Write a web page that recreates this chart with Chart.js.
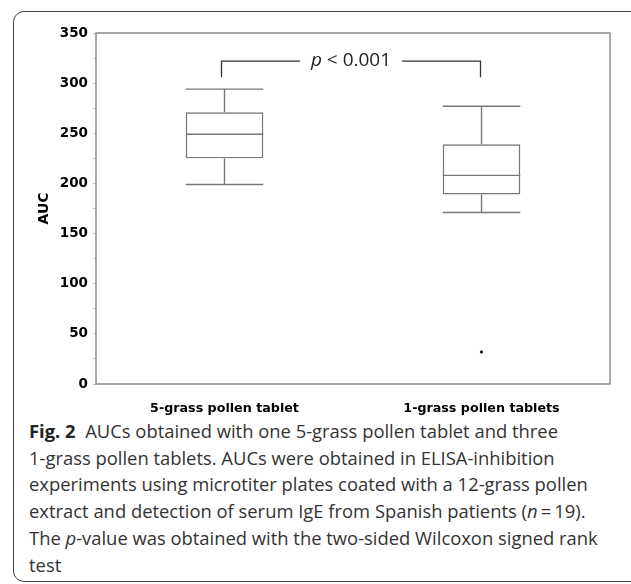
<!DOCTYPE html>
<html>
<head>
<meta charset="utf-8">
<script src="https://cdn.jsdelivr.net/npm/chart.js@4/dist/chart.umd.min.js"></script>
<style>
  html, body { margin: 0; padding: 0; background: #fff; }
  body { width: 631px; height: 584px; position: relative; overflow: hidden; }
  #frame {
    position: absolute; left: 12.5px; top: 10.5px; width: 630px; height: 571px;
    border: 1.3px solid #444; border-radius: 11px; box-sizing: border-box;
  }
  #wrap { position: absolute; left: 0; top: 0; width: 631px; height: 415px; }
  #caption {
    position: absolute; left: 29px; top: 418px;
    font-family: "Open Sans", sans-serif; font-size: 18.4px; line-height: 26.7px;
    color: #333;
  }
  #caption div { white-space: nowrap; }
  #caption b { color: #222; }
</style>
</head>
<body>
<div id="frame"></div>
<div id="wrap"><canvas id="chart"></canvas></div>
<div id="caption">
  <div><b>Fig. 2</b>&nbsp; AUCs obtained with one 5-grass pollen tablet and three</div>
  <div>1-grass pollen tablets. AUCs were obtained in ELISA-inhibition</div>
  <div>experiments using microtiter plates coated with a 12-grass pollen</div>
  <div>extract and detection of serum IgE from Spanish patients (<i>n</i>&thinsp;=&thinsp;19).</div>
  <div>The <i>p</i>-value was obtained with the two-sided Wilcoxon signed rank</div>
  <div>test</div>
</div>
<script>
const categories = ['5-grass pollen tablet', '1-grass pollen tablets'];
const whiskerLow = [199, 171];
const q1 = [225, 189];
const median = [249, 208];
const q3 = [271, 239];
const whiskerHigh = [294, 277];
const outliers = [null, 32];
const yMax = 350;
const yLabelStep = 50;
const bracketTop = 322;
const bracketFoot = 306;
const pText = ['p', ' < 0.001'];

const LINE = '#777';
const AXIS = '#8c8c8c';
const TICK_FONT = { family: 'DejaVu Sans', weight: 'bold', size: 13.5 };

// whiskers, median line and cap lines, drawn from the box positions
const boxParts = {
  id: 'boxParts',
  afterDatasetsDraw(chart) {
    const ctx = chart.ctx;
    const y = chart.scales.y;
    const bars = chart.getDatasetMeta(0).data;
    ctx.save();
    ctx.strokeStyle = LINE;
    ctx.lineWidth = 1.4;
    bars.forEach((bar, i) => {
      const x = bar.x, hw = bar.width / 2;
      const seg = (x1, y1, x2, y2) => {
        ctx.beginPath(); ctx.moveTo(x1, y1); ctx.lineTo(x2, y2); ctx.stroke();
      };
      seg(x - hw, y.getPixelForValue(median[i]), x + hw, y.getPixelForValue(median[i]));
      seg(x, y.getPixelForValue(q3[i]), x, y.getPixelForValue(whiskerHigh[i]));
      seg(x, y.getPixelForValue(q1[i]), x, y.getPixelForValue(whiskerLow[i]));
      seg(x - hw, y.getPixelForValue(whiskerHigh[i]), x + hw, y.getPixelForValue(whiskerHigh[i]));
      seg(x - hw, y.getPixelForValue(whiskerLow[i]), x + hw, y.getPixelForValue(whiskerLow[i]));
    });
    ctx.restore();
  }
};

// plot frame + significance bracket
const decorations = {
  id: 'decorations',
  afterDraw(chart) {
    const ctx = chart.ctx;
    const { left, top, right, bottom } = chart.chartArea;
    const x = chart.scales.x, y = chart.scales.y;
    ctx.save();
    ctx.strokeStyle = AXIS;
    ctx.lineWidth = 1.5;
    ctx.strokeRect(left, top, right - left, bottom - top);

    const x0 = x.getPixelForValue(0) - 3, x1 = x.getPixelForValue(1) - 1;
    const yt = y.getPixelForValue(bracketTop), yf = y.getPixelForValue(bracketFoot);
    const mid = (x0 + x1) / 2;
    const fItal = 'italic 19px "Open Sans"', fReg = '19px "Open Sans"';
    ctx.font = fItal;
    const w1 = ctx.measureText(pText[0]).width;
    ctx.font = fReg;
    const w2 = ctx.measureText(pText[1]).width;
    const tw = w1 + w2;
    const tx = mid - tw / 2;
    ctx.fillStyle = '#222';
    ctx.textBaseline = 'middle';
    ctx.textAlign = 'left';
    ctx.font = fItal;
    ctx.fillText(pText[0], tx, yt);
    ctx.font = fReg;
    ctx.fillText(pText[1], tx + w1, yt);

    ctx.strokeStyle = '#333';
    ctx.lineWidth = 1.3;
    ctx.beginPath();
    ctx.moveTo(x0, yf); ctx.lineTo(x0, yt); ctx.lineTo(tx - 11, yt);
    ctx.moveTo(tx + tw + 11, yt); ctx.lineTo(x1, yt); ctx.lineTo(x1, yf);
    ctx.stroke();
    ctx.restore();
  }
};

new Chart(document.getElementById('chart'), {
  data: {
    labels: categories,
    datasets: [
      {
        type: 'bar',
        data: categories.map((c, i) => [q1[i], q3[i]]),
        backgroundColor: 'rgba(255,255,255,0)',
        borderColor: LINE,
        borderWidth: 1.4,
        borderSkipped: false,
        barPercentage: 0.302,
        categoryPercentage: 1
      },
      {
        type: 'line',
        data: outliers,
        showLine: false,
        pointRadius: 1.6,
        pointBackgroundColor: '#111',
        pointBorderWidth: 0
      }
    ]
  },
  options: {
    responsive: true,
    maintainAspectRatio: false,
    animation: false,
    layout: { padding: { left: 36, top: 33, right: 21, bottom: 0 } },
    plugins: { legend: { display: false }, tooltip: { enabled: false } },
    scales: {
      x: {
        grid: { display: false },
        border: { display: false },
        ticks: { color: '#000', font: { family: 'DejaVu Sans', weight: 'bold', size: 12.7 }, padding: 9 },
        afterFit: s => { s.height = 31; }
      },
      y: {
        min: 0,
        max: yMax,
        grid: { drawOnChartArea: false, drawTicks: true, tickLength: 3, color: '#c8c8c8' },
        border: { display: false },
        ticks: {
          stepSize: yLabelStep / 2,
          color: '#000',
          font: TICK_FONT,
          padding: 5,
          callback: v => (v % yLabelStep === 0 ? v : '')
        },
        title: { display: true, text: 'AUC', color: '#000', font: { family: 'DejaVu Sans', weight: 'bold', size: 14 }, padding: 0 },
        afterFit: s => { s.width = 60; }
      }
    }
  },
  plugins: [boxParts, decorations]
});
</script>
</body>
</html>
